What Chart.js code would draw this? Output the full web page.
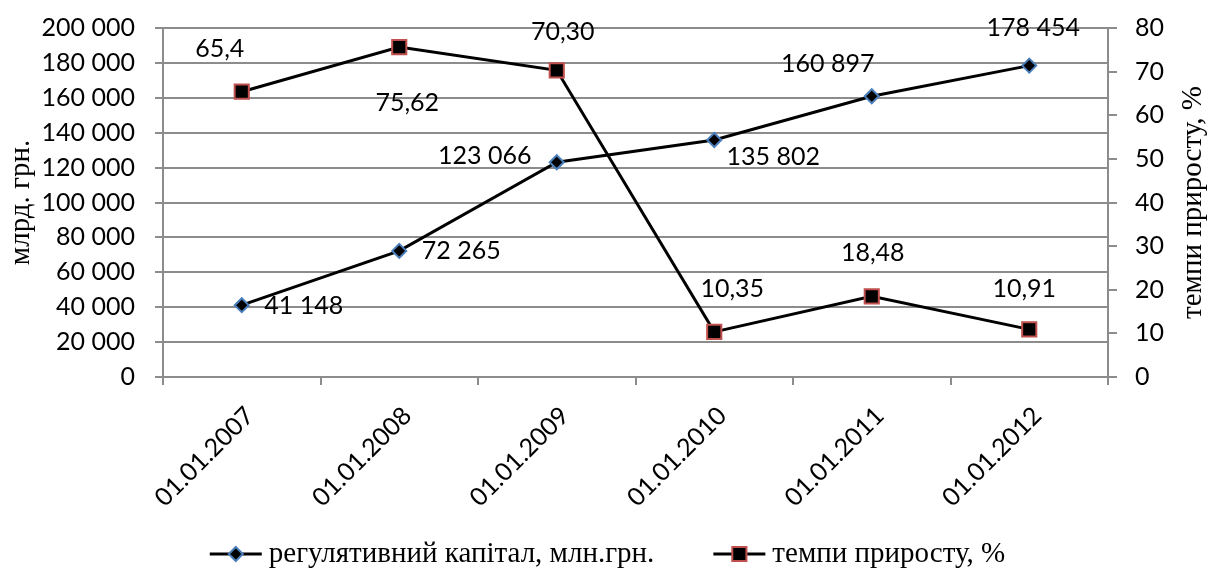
<!DOCTYPE html>
<html>
<head>
<meta charset="utf-8">
<script src="https://cdn.jsdelivr.net/npm/chart.js@4.4.1/dist/chart.umd.min.js"></script>
<style>
  html, body { margin: 0; padding: 0; background: #fff; }
  #wrap { width: 1209px; height: 572px; }
</style>
</head>
<body>
<div id="wrap"><canvas id="chart" width="1209" height="572"></canvas></div>
<script>
// data
const dates = ['01.01.2007', '01.01.2008', '01.01.2009', '01.01.2010', '01.01.2011', '01.01.2012'];
const capital = [41148, 72265, 123066, 135802, 160897, 178454];
const growth = [65.4, 75.62, 70.30, 10.35, 18.48, 10.91];
const growthText = ['65,4', '75,62', '70,30', '10,35', '18,48', '10,91'];
const capitalName = 'регулятивний капітал, млн.грн.';
const growthName = 'темпи приросту, %';
const leftTitle = 'млрд. грн.';
const rightTitle = 'темпи приросту, %';

// where each value label sits relative to its point (px)
const capitalShift = [[62, 1], [62, 0], [-72, -6], [59, 17], [-44, -32], [4, -38]];
const growthShift = [[-22, -43], [8, 56], [6, -38], [18, -43], [1, -43], [-5, -40]];

const GRID = '#8c8c8c';
const NUM_FONT = 'Lato';
const SERIF = '"Liberation Serif", "Times New Roman", serif';
const BLUE = '#4a7ebb';
const RED = '#c0504d';

const spaced = v => String(v).replace(/\B(?=(\d{3})+(?!\d))/g, ' ');

const diamond = { pointStyle: 'rectRot', radius: 7, borderWidth: 2 };
const square = { pointStyle: 'rect', radius: 10, borderWidth: 2 };

function marker(ctx, style, fill, stroke, x, y) {
  ctx.save();
  ctx.fillStyle = fill;
  ctx.strokeStyle = stroke;
  ctx.lineWidth = style.borderWidth;
  Chart.helpers.drawPoint(ctx, { pointStyle: style.pointStyle, radius: style.radius, rotation: 0, borderWidth: style.borderWidth }, x, y);
  ctx.restore();
}

// keep the vertical axes from pushing the plot down
function fixAxis(width) {
  return s => {
    s.width = width;
    s.paddingTop = 10;
    s.paddingBottom = 10;
  };
}

const extras = {
  id: 'extras',
  afterDatasetsDraw(chart) {
    const ctx = chart.ctx;
    ctx.save();
    ctx.fillStyle = '#000';
    ctx.font = '25px ' + NUM_FONT;
    ctx.textAlign = 'center';
    ctx.textBaseline = 'middle';
    chart.getDatasetMeta(0).data.forEach((pt, i) => {
      ctx.fillText(spaced(capital[i]), pt.x + capitalShift[i][0], pt.y + capitalShift[i][1]);
    });
    chart.getDatasetMeta(1).data.forEach((pt, i) => {
      ctx.fillText(growthText[i], pt.x + growthShift[i][0], pt.y + growthShift[i][1]);
    });
    ctx.restore();
  },
  afterDraw(chart) {
    const ctx = chart.ctx;
    const area = chart.chartArea;
    ctx.save();
    ctx.fillStyle = '#000';
    ctx.font = '29px ' + SERIF;
    ctx.textBaseline = 'middle';

    // right axis title, reads bottom to top
    ctx.save();
    ctx.translate(1193, (area.top + area.bottom) / 2);
    ctx.rotate(-Math.PI / 2);
    ctx.textAlign = 'center';
    ctx.fillText(rightTitle, 0, 0);
    ctx.restore();

    // legend
    const lineLen = 52, textGap = 7, itemGap = 59, y = 554;
    const items = [
      { text: capitalName, style: diamond, fill: '#000', stroke: BLUE },
      { text: growthName, style: square, fill: '#000', stroke: RED }
    ];
    items.forEach(it => { it.w = lineLen + textGap + ctx.measureText(it.text).width; });
    const total = items[0].w + itemGap + items[1].w;
    let x = chart.width / 2 + 3 - total / 2;
    ctx.textAlign = 'left';
    items.forEach(it => {
      ctx.strokeStyle = '#000';
      ctx.lineWidth = 3;
      ctx.beginPath();
      ctx.moveTo(x, y);
      ctx.lineTo(x + lineLen, y);
      ctx.stroke();
      marker(ctx, it.style, it.fill, it.stroke, x + lineLen / 2, y);
      ctx.fillStyle = '#000';
      ctx.fillText(it.text, x + lineLen + textGap, y);
      x += it.w + itemGap;
    });
    ctx.restore();
  }
};

new Chart(document.getElementById('chart'), {
  type: 'line',
  data: {
    labels: dates,
    datasets: [
      {
        label: capitalName,
        data: capital,
        yAxisID: 'y',
        borderColor: '#000',
        borderWidth: 3,
        backgroundColor: '#000',
        pointStyle: diamond.pointStyle,
        pointRadius: diamond.radius,
        pointBorderWidth: diamond.borderWidth,
        pointBackgroundColor: '#000',
        pointBorderColor: BLUE,
        tension: 0
      },
      {
        label: growthName,
        data: growth,
        yAxisID: 'y1',
        borderColor: '#000',
        borderWidth: 3,
        backgroundColor: '#000',
        pointStyle: square.pointStyle,
        pointRadius: square.radius,
        pointBorderWidth: square.borderWidth,
        pointBackgroundColor: '#000',
        pointBorderColor: RED,
        tension: 0
      }
    ]
  },
  options: {
    responsive: false,
    animation: false,
    devicePixelRatio: 1,
    layout: { padding: { top: 28, left: 0, right: 0, bottom: 0 } },
    plugins: {
      legend: { display: false },
      tooltip: { enabled: false }
    },
    scales: {
      x: {
        offset: true,
        grid: { offset: true, drawOnChartArea: false, drawTicks: true, tickLength: 8, color: GRID, lineWidth: 2 },
        border: { display: true, color: GRID, width: 2 },
        ticks: {
          autoSkip: false,
          minRotation: 45,
          maxRotation: 45,
          padding: 16,
          labelOffset: 8,
          color: '#000',
          font: { family: NUM_FONT, size: 25 }
        },
        afterFit: s => { s.height = 195; }
      },
      y: {
        position: 'left',
        min: 0,
        max: 200000,
        ticks: {
          stepSize: 20000,
          padding: 20,
          color: '#000',
          font: { family: NUM_FONT, size: 25 },
          callback: v => spaced(v)
        },
        grid: { color: GRID, lineWidth: 2, tickLength: 8, drawTicks: true },
        border: { display: true, color: GRID, width: 2 },
        title: {
          display: true,
          text: leftTitle,
          color: '#000',
          font: { family: SERIF, size: 29 },
          padding: { top: 4, bottom: 0 }
        },
        afterFit: fixAxis(163)
      },
      y1: {
        position: 'right',
        min: 0,
        max: 80,
        ticks: {
          stepSize: 10,
          padding: 18,
          color: '#000',
          font: { family: NUM_FONT, size: 25 }
        },
        grid: { drawOnChartArea: false, drawTicks: true, tickLength: 9, color: GRID, lineWidth: 2 },
        border: { display: true, color: GRID, width: 2 },
        afterFit: fixAxis(101)
      }
    }
  },
  plugins: [extras]
});
</script>
</body>
</html>
